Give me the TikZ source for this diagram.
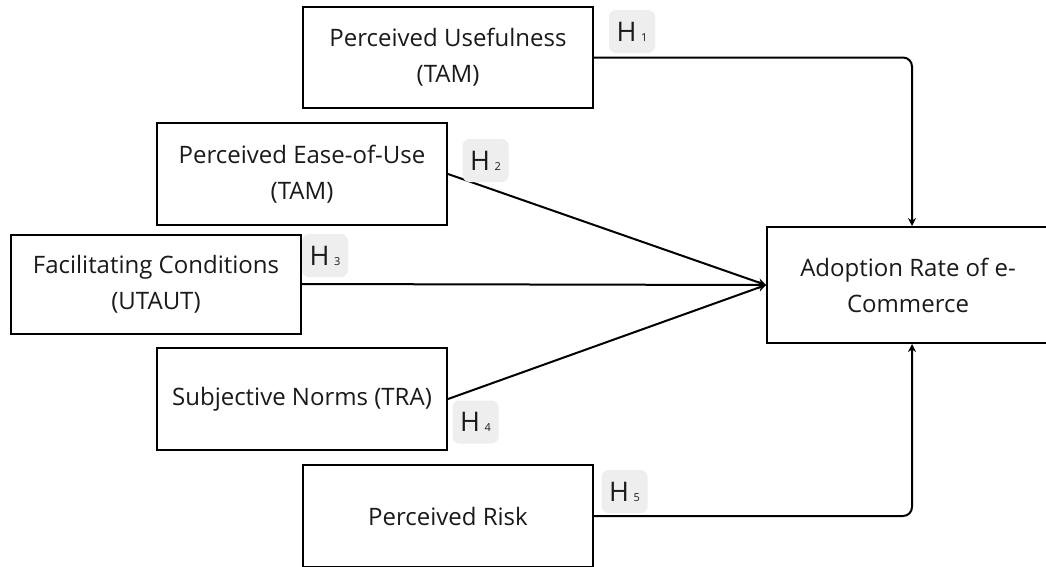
\documentclass[tikz,border=0pt]{standalone}
\usepackage{fontspec}
\setmainfont{Open Sans}
\usetikzlibrary{arrows.meta}
\definecolor{badgegray}{HTML}{EEEEEE}
\definecolor{ink}{HTML}{1A1A1A}
\begin{document}
\begin{tikzpicture}[x=1pt,y=-1pt,
  box/.style={draw=black, line width=2pt, fill=white, minimum width=290pt, align=center,
    font=\fontsize{24}{36}\selectfont, text=ink, inner sep=0pt},
  badge/.style={fill=badgegray, rounded corners=7pt, minimum width=46pt, minimum height=43pt,
    inner sep=0pt, font=\fontsize{27}{27}\selectfont, text=ink},
  conn/.style={line width=2pt, -{Stealth[length=8pt,width=8pt]}, rounded corners=9pt}]
\useasboundingbox (0,0) rectangle (1046,566);
\clip (0,0) rectangle (1046,566);
\fill[white] (0,0) rectangle (1046,566);
\node[box, minimum height=101pt] (pu) at (448,57.5) {Perceived Usefulness\\(TAM)};
\node[box, minimum height=102pt] (peou) at (302,174) {Perceived Ease-of-Use\\(TAM)};
\node[box, minimum height=99pt] (fc) at (156,284) {Facilitating Conditions\\(UTAUT)};
\node[box, minimum height=102pt] (sn) at (302,399) {Subjective Norms (TRA)};
\node[box, minimum height=102pt] (pr) at (448,516) {Perceived Risk};
\node[box, minimum width=282pt, minimum height=116pt] (ar) at (908,285) {Adoption Rate of e-\\Commerce};
\coordinate (c1) at (912,57.5);
\coordinate (c5) at (912,516);
\draw[conn] (pu.east) -- (c1) -- (c1 |- ar.north);
\draw[conn] (pr.east) -- (c5) -- (c5 |- ar.south);
\draw[conn] (peou.east) -- (ar.west);
\draw[conn] (fc.east) -- (ar.west);
\draw[conn] (sn.east) -- (ar.west);
\node[badge] (h1) at (632,31.5) {H\,{\fontsize{11}{11}\selectfont 1}};
\node[badge] (h2) at (485.5,160.5) {H\,{\fontsize{11}{11}\selectfont 2}};
\node[badge] (h3) at (325,255.5) {H\,{\fontsize{11}{11}\selectfont 3}};
\node[badge] (h4) at (475.5,422) {H\,{\fontsize{11}{11}\selectfont 4}};
\node[badge] (h5) at (624.5,491.5) {H\,{\fontsize{11}{11}\selectfont 5}};
\end{tikzpicture}
\end{document}
